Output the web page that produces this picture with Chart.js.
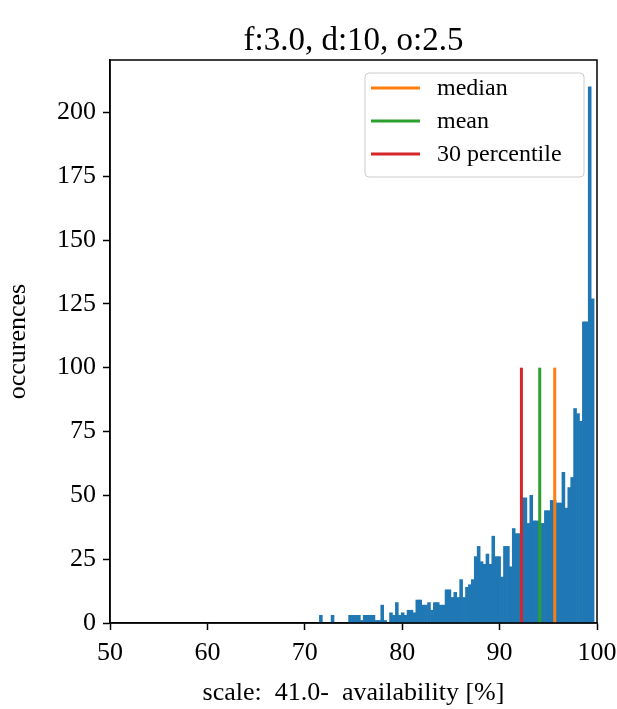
<!DOCTYPE html>
<html>
<head>
<meta charset="utf-8">
<title>f:3.0, d:10, o:2.5</title>
<script src="https://cdn.jsdelivr.net/npm/chart.js@4.4.0/dist/chart.umd.min.js"></script>
<style>
    html, body { margin: 0; padding: 0; background: #fff; }
    #wrap { width: 617px; height: 709px; }
</style>
</head>
<body>
<div id="wrap"><canvas id="histChart" width="617" height="709"></canvas></div>
<script>
// Histogram of availability [%], bins of 0.3 starting at 71.2
const binStart = 71.2;
const binWidth = 0.3;
const binCounts = [
    0, 3, 0, 0, 0, 3, 0, 0, 0, 0,
    0, 3, 3, 3, 3, 1, 3, 3, 3, 3,
    1, 1, 7, 1, 0, 4, 3, 8, 3, 4,
    3, 5, 5, 4, 9, 9, 7, 7, 8, 5,
    8, 8, 7, 7, 13, 13, 10, 12, 10, 17,
    10, 14, 15, 17, 26, 30, 24, 23, 27, 23,
    34, 26, 26, 18, 30, 30, 22, 37, 35, 35,
    49, 49, 39, 50, 40, 40, 39, 39, 44, 44,
    48, 48, 47, 47, 59, 45, 53, 57, 84, 82,
    79, 118, 118, 210, 127
];

// Marker lines (drawn from 0 up to statTop)
const statLabels = ['median', 'mean', '30 percentile'];
const statValues = [95.66, 94.12, 92.24];
const statTop = 100;

const xTicks = [50, 60, 70, 80, 90, 100];
const yTicks = [0, 25, 50, 75, 100, 125, 150, 175, 200];

const titleText = 'f:3.0, d:10, o:2.5';
const xLabel = 'scale:  41.0-  availability [%]';
const yLabel = 'occurences';

const serif = "'Liberation Serif', 'DejaVu Serif', serif";
const statColors = ['#ff7f0e', '#2ca02c', '#d62728'];
const barColor = '#1f77b4';

// Title, frame and in-plot legend
const decorPlugin = {
    id: 'decor',
    afterDatasetsDraw(chart) {
        const { ctx, chartArea: a } = chart;
        ctx.save();
        ctx.strokeStyle = '#000';
        ctx.lineWidth = 1.5;
        ctx.strokeRect(a.left, a.top, a.right - a.left, a.bottom - a.top);
        ctx.restore();
    },
    afterDraw(chart) {
        const { ctx, chartArea: a } = chart;
        ctx.save();

        // title
        ctx.fillStyle = '#000';
        ctx.font = '33px ' + serif;
        ctx.textAlign = 'center';
        ctx.textBaseline = 'alphabetic';
        ctx.fillText(titleText, (a.left + a.right) / 2, 50);

        // legend box
        const bx = 365, by = 73, bw = 219, bh = 104, r = 4;
        ctx.beginPath();
        ctx.moveTo(bx + r, by);
        ctx.arcTo(bx + bw, by, bx + bw, by + bh, r);
        ctx.arcTo(bx + bw, by + bh, bx, by + bh, r);
        ctx.arcTo(bx, by + bh, bx, by, r);
        ctx.arcTo(bx, by, bx + bw, by, r);
        ctx.closePath();
        ctx.fillStyle = 'rgba(255,255,255,0.8)';
        ctx.fill();
        ctx.strokeStyle = '#cccccc';
        ctx.lineWidth = 1;
        ctx.stroke();

        ctx.font = '24px ' + serif;
        ctx.textAlign = 'left';
        ctx.textBaseline = 'middle';
        statLabels.forEach((label, i) => {
            const y = 88 + i * 33;
            ctx.strokeStyle = statColors[i];
            ctx.lineWidth = 3;
            ctx.beginPath();
            ctx.moveTo(371, y);
            ctx.lineTo(420, y);
            ctx.stroke();
            ctx.fillStyle = '#000';
            ctx.fillText(label, 437, y + 1);
        });
        ctx.restore();
    }
};

const statDatasets = statLabels.map((label, i) => ({
    type: 'line',
    label: label,
    data: [{ x: statValues[i], y: 0 }, { x: statValues[i], y: statTop }],
    borderColor: statColors[i],
    borderWidth: 3,
    pointRadius: 0,
    fill: false,
    order: 0
}));

const histDataset = {
    type: 'bar',
    label: 'occurences',
    data: binCounts.map((c, i) => ({ x: binStart + binWidth * (i + 0.5), y: c })),
    backgroundColor: barColor,
    borderWidth: 0,
    barPercentage: 1.0,
    categoryPercentage: 1.0,
    order: 1
};

const ctx = document.getElementById('histChart');
new Chart(ctx, {
    type: 'bar',
    data: { datasets: [...statDatasets, histDataset] },
    options: {
        responsive: false,
        animation: false,
        layout: { padding: { top: 60, right: 20, left: 0, bottom: 0 } },
        plugins: {
            legend: { display: false },
            tooltip: { enabled: false },
            title: { display: false }
        },
        scales: {
            x: {
                type: 'linear',
                min: 50,
                max: 100,
                offset: false,
                afterBuildTicks: s => { s.ticks = xTicks.map(v => ({ value: v })); },
                afterFit: s => { s.height = 86; s.paddingLeft = 0; s.paddingRight = 0; },
                grid: { drawOnChartArea: false, drawTicks: true, tickLength: 7, tickColor: '#000', tickWidth: 1.5, offset: false },
                border: { display: true, color: '#000', width: 1.5 },
                ticks: { color: '#000', font: { family: serif, size: 26 }, padding: 8, maxRotation: 0 },
                title: { display: true, text: xLabel, color: '#000', font: { family: serif, size: 26 }, padding: { top: 0, bottom: 0 } }
            },
            y: {
                min: 0,
                max: 220.5,
                afterBuildTicks: s => { s.ticks = yTicks.map(v => ({ value: v })); },
                afterFit: s => { s.width = 110; s.paddingTop = 0; s.paddingBottom = 0; },
                grid: { drawOnChartArea: false, drawTicks: true, tickLength: 7, tickColor: '#000', tickWidth: 1.5 },
                border: { display: true, color: '#000', width: 1.5 },
                ticks: { color: '#000', font: { family: serif, size: 26 }, padding: 7 },
                title: { display: true, text: yLabel, color: '#000', font: { family: serif, size: 26 }, padding: { top: 3, bottom: 0 } }
            }
        }
    },
    plugins: [decorPlugin]
});
</script>
</body>
</html>
